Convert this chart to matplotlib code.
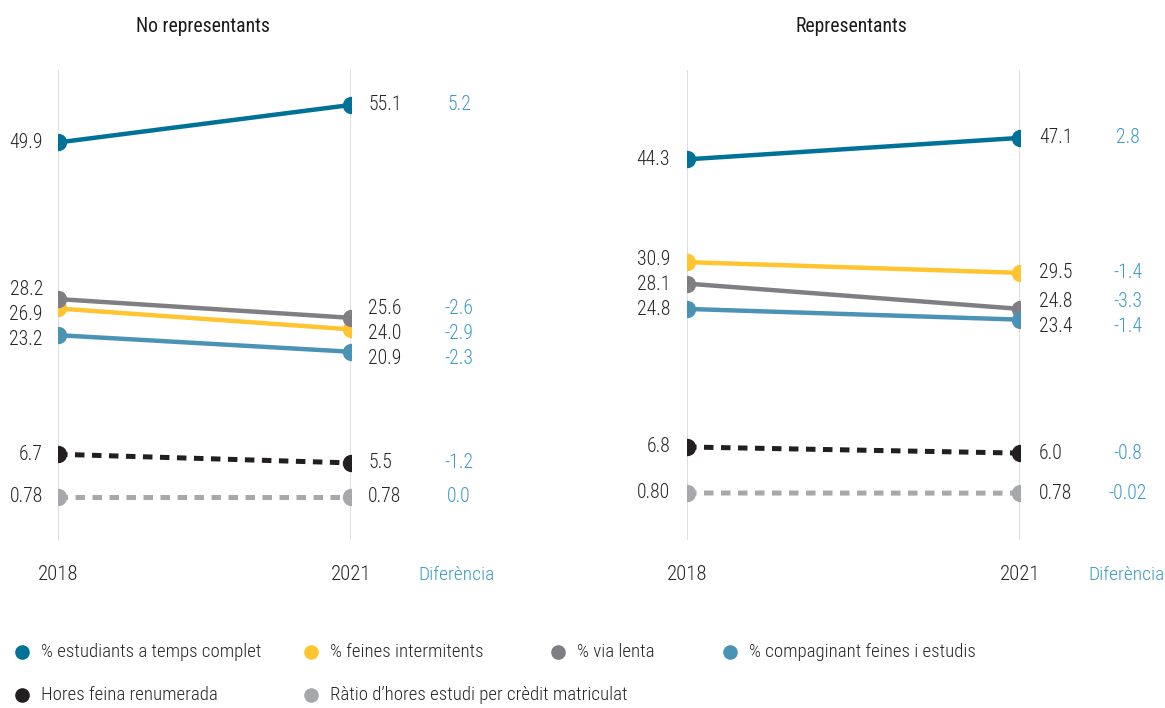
import matplotlib
matplotlib.use("Agg")
import matplotlib.pyplot as plt
from matplotlib.lines import Line2D

plt.rcParams['font.family'] = ['Roboto Condensed', 'Liberation Sans Narrow', 'Liberation Sans', 'DejaVu Sans']
plt.rcParams['font.weight'] = 300

# ---------------- data ----------------
years = [2018, 2021]
series = ['% estudiants a temps complet', '% feines intermitents', '% via lenta',
          '% compaginant feines i estudis', 'Hores feina renumerada',
          'Ràtio d’hores estudi per crèdit matriculat']
no_rep_2018 = [49.9, 26.9, 28.2, 23.2, 6.7, 0.78]
no_rep_2021 = [55.1, 24.0, 25.6, 20.9, 5.5, 0.78]
no_rep_diff = ['5.2', '-2.9', '-2.6', '-2.3', '-1.2', '0.0']
rep_2018 = [44.3, 30.9, 28.1, 24.8, 6.8, 0.80]
rep_2021 = [47.1, 29.5, 24.8, 23.4, 6.0, 0.78]
rep_diff = ['2.8', '-1.4', '-3.3', '-1.4', '-0.8', '-0.02']
titles = ['No representants', 'Representants']
diff_title = 'Diferència'

# ---------------- styles ----------------
colors = ['#007298', '#ffc530', '#7f7f83', '#4b93b5', '#231f20', '#a7a8ab']
dashed = [False, False, False, False, True, True]
txt_col = '#262626'
diff_col = '#3d9ac4'
FS = 14.2

W, H = 1165, 708
fig = plt.figure(figsize=(W / 100, H / 100), dpi=100)
fig.patch.set_facecolor('white')


def fmt(v):
    return f"{v:.2f}" if v < 1 else f"{v:.1f}"


def repel(vals, sep):
    order = sorted(range(len(vals)), key=lambda i: -vals[i])
    clusters = []
    for i in order:
        clusters.append([i])
        while len(clusters) > 1:
            c = clusters[-1]
            p = clusters[-2]
            top_c = sum(vals[j] + k * sep for k, j in enumerate(c)) / len(c)
            top_p = sum(vals[j] + k * sep for k, j in enumerate(p)) / len(p)
            bottom_p = top_p - (len(p) - 1) * sep
            if bottom_p - top_c < sep:
                clusters[-2] = p + c
                clusters.pop()
            else:
                break
    out = [0.0] * len(vals)
    for c in clusters:
        top = sum(vals[j] + k * sep for k, j in enumerate(c)) / len(c)
        for k, j in enumerate(c):
            out[j] = top - k * sep
    return out


def panel(rect, ylim, v18, v21, diffs, title, tx, lab_off):
    ax = fig.add_axes(rect)
    ax.set_xlim(2018, 2021)
    ax.set_ylim(*ylim)
    ax.axis('off')
    for x in years:
        ax.axvline(x, color='#d9d9d9', lw=1.2, zorder=0)
    for i in range(len(series)):
        if dashed[i]:
            ax.plot(years, [v18[i], v21[i]], color=colors[i], lw=3.6,
                    dashes=(1.9, 1.5), zorder=2, solid_capstyle='butt')
            ax.plot(years, [v18[i], v21[i]], ls='none', marker='o', ms=11.5,
                    color=colors[i], zorder=3)
        else:
            ax.plot(years, [v18[i], v21[i]], color=colors[i], lw=3.2,
                    marker='o', ms=11.5, zorder=3)
    # label placement (pixel-based repel)
    px_per_unit = rect[3] * H / (ylim[1] - ylim[0])
    sep = 25 / px_per_unit
    y18 = repel(v18, sep)
    y21 = repel(v21, sep)
    for i in range(len(series)):
        ax.annotate(fmt(v18[i]), (2018, y18[i]), xytext=(-lab_off, 0),
                    textcoords='offset pixels', ha='right', va='center',
                    fontsize=FS, color=txt_col)
        ax.annotate(fmt(v21[i]), (2021, y21[i]), xytext=(lab_off + 2, 0),
                    textcoords='offset pixels', ha='left', va='center',
                    fontsize=FS, color=txt_col)
        ax.annotate(diffs[i], (2021, y21[i]), xytext=(108, 0),
                    textcoords='offset pixels', ha='center', va='center',
                    fontsize=FS, color=diff_col)
    for x in years:
        ax.annotate(str(x), (x, ylim[0]), xytext=(0, -35),
                    textcoords='offset pixels', ha='center', va='center',
                    fontsize=15, color=txt_col)
    ax.annotate(diff_title, (2021, ylim[0]), xytext=(106, -35),
                textcoords='offset pixels', ha='center', va='center',
                fontsize=14, color=diff_col)
    fig.text(tx / W, 1 - 26 / H, title, ha='center', va='center',
             fontsize=FS, color='#1a1a1a', fontweight='normal')
    return ax


bottom = (H - 540) / H
height = 470 / H
panel([58 / W, bottom, 293 / W, height], (-5.18, 59.94),
      no_rep_2018, no_rep_2021, no_rep_diff, titles[0], 203, 15)
panel([687 / W, bottom, 333 / W, height], (-5.33, 55.95),
      rep_2018, rep_2021, rep_diff, titles[1], 851, 17)

# ---------------- legend ----------------
leg_x = [22, 311, 558, 730, 22, 311]
leg_y = [652, 652, 652, 652, 695, 695]
for i, name in enumerate(series):
    fig.add_artist(Line2D([leg_x[i] / W], [1 - leg_y[i] / H], ls='none',
                          marker='o', ms=9.5, color=colors[i],
                          transform=fig.transFigure))
    fig.text((leg_x[i] + 19) / W, 1 - leg_y[i] / H, name, ha='left',
             va='center', fontsize=13.6, color=txt_col)

fig.savefig('out.png', dpi=100, facecolor='white')
